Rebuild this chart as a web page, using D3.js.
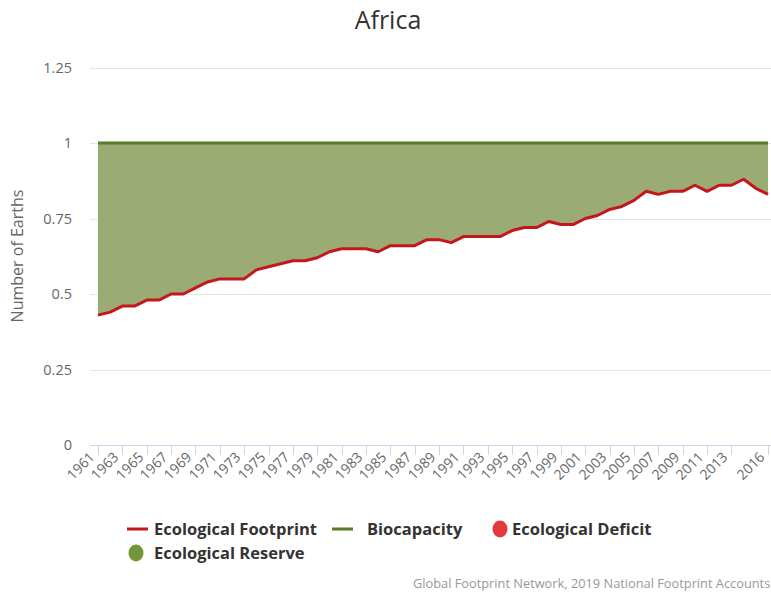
<!DOCTYPE html>
<html><head><meta charset="utf-8">
<script src="https://cdn.jsdelivr.net/npm/d3@7"></script>
<style>body{margin:0;background:#fff}svg{display:block;font-family:"Open Sans",sans-serif}</style>
</head><body><svg id="c" width="771" height="592"></svg>
<script>
const years = d3.range(1961, 2017);
const footprint = [0.43,0.44,0.46,0.46,0.48,0.48,0.50,0.50,0.52,0.54,0.55,0.55,0.55,0.58,0.59,0.60,0.61,0.61,0.62,0.64,0.65,0.65,0.65,0.64,0.66,0.66,0.66,0.68,0.68,0.67,0.69,0.69,0.69,0.69,0.71,0.72,0.72,0.74,0.73,0.73,0.75,0.76,0.78,0.79,0.81,0.84,0.83,0.84,0.84,0.86,0.84,0.86,0.86,0.88,0.85,0.83];
const biocapacity = years.map(() => 1.0);
const yTicks = [0, 0.25, 0.5, 0.75, 1, 1.25];
const xTickYears = d3.range(1961, 2014, 2).concat([2016]);

const svg = d3.select("#c");
const x = d3.scaleLinear().domain([1961, 2016]).range([98, 768]);
const y = d3.scaleLinear().domain([0, 1.25]).range([445, 67.5]);

// gridlines
svg.append("g").selectAll("line").data(yTicks.filter(d => d > 0)).join("line")
  .attr("x1", 90).attr("x2", 771).attr("y1", d => Math.round(y(d)) + 0.5).attr("y2", d => Math.round(y(d)) + 0.5)
  .attr("stroke", "#e6e6e6").attr("stroke-width", 1);

// y tick labels
svg.append("g").selectAll("text").data(yTicks).join("text")
  .attr("x", 72).attr("y", d => y(d) + 5).attr("text-anchor", "end")
  .attr("font-size", 14.5).attr("fill", "#666").text(d => d3.format("")(d));

// area between footprint and biocapacity (reserve)
const data = years.map((yr, i) => ({yr, f: footprint[i], b: biocapacity[i]}));
svg.append("path").datum(data)
  .attr("d", d3.area().x(d => x(d.yr)).y0(d => y(d.f)).y1(d => y(d.b)))
  .attr("fill", "#9aac74");

// biocapacity line
svg.append("path").datum(data)
  .attr("d", d3.line().x(d => x(d.yr)).y(d => y(d.b)))
  .attr("fill", "none").attr("stroke", "#5a7a26").attr("stroke-width", 3);

// footprint line
svg.append("path").datum(data)
  .attr("d", d3.line().x(d => x(d.yr)).y(d => y(d.f)))
  .attr("fill", "none").attr("stroke", "#c4161c").attr("stroke-width", 3)
  .attr("stroke-linejoin", "round");

// x axis
svg.append("line").attr("x1", 90).attr("x2", 771).attr("y1", 445.5).attr("y2", 445.5)
  .attr("stroke", "#ccd6eb");
const xt = svg.append("g").selectAll("g").data(xTickYears).join("g")
  .attr("transform", d => `translate(${Math.round(x(d)) + 0.5},445)`);
xt.append("line").attr("y1", 0).attr("y2", 10).attr("stroke", "#ccd6eb");
xt.append("text").attr("transform", "translate(-3,13) rotate(-45)")
  .attr("text-anchor", "end").attr("font-size", 14).attr("fill", "#666").text(d => d);

// title
svg.append("text").attr("x", 388).attr("y", 29).attr("text-anchor", "middle")
  .attr("font-size", 25).attr("fill", "#333").text("Africa");

// y axis title
svg.append("text").attr("transform", "translate(23,256) rotate(-90)")
  .attr("text-anchor", "middle").attr("font-size", 16).attr("fill", "#666").text("Number of Earths");

// legend
const lg = svg.append("g").attr("font-size", 16.5).attr("font-weight", "bold").attr("fill", "#333");
const legendItems = [
  {label: "Ecological Footprint", type: "line", color: "#c4161c", x: 127, tx: 154, y: 529},
  {label: "Biocapacity", type: "line", color: "#5a7a26", x: 332, tx: 367, y: 529},
  {label: "Ecological Deficit", type: "dot", color: "#e03a3e", x: 500, tx: 512, y: 529},
  {label: "Ecological Reserve", type: "dot", color: "#74953a", x: 136, tx: 154, y: 553}
];
legendItems.forEach(it => {
  if (it.type === "line") {
    lg.append("line").attr("x1", it.x).attr("x2", it.x + 21).attr("y1", it.y).attr("y2", it.y)
      .attr("stroke", it.color).attr("stroke-width", 3);
  } else {
    lg.append("ellipse").attr("cx", it.x).attr("cy", it.y).attr("rx", 7.5).attr("ry", 8.5).attr("fill", it.color);
  }
  lg.append("text").attr("x", it.tx).attr("y", it.y + 6).text(it.label);
});

// credits
svg.append("text").attr("x", 413).attr("y", 588).attr("font-size", 12.8).attr("fill", "#999")
  .text("Global Footprint Network, 2019 National Footprint Accounts");
</script></body></html>
